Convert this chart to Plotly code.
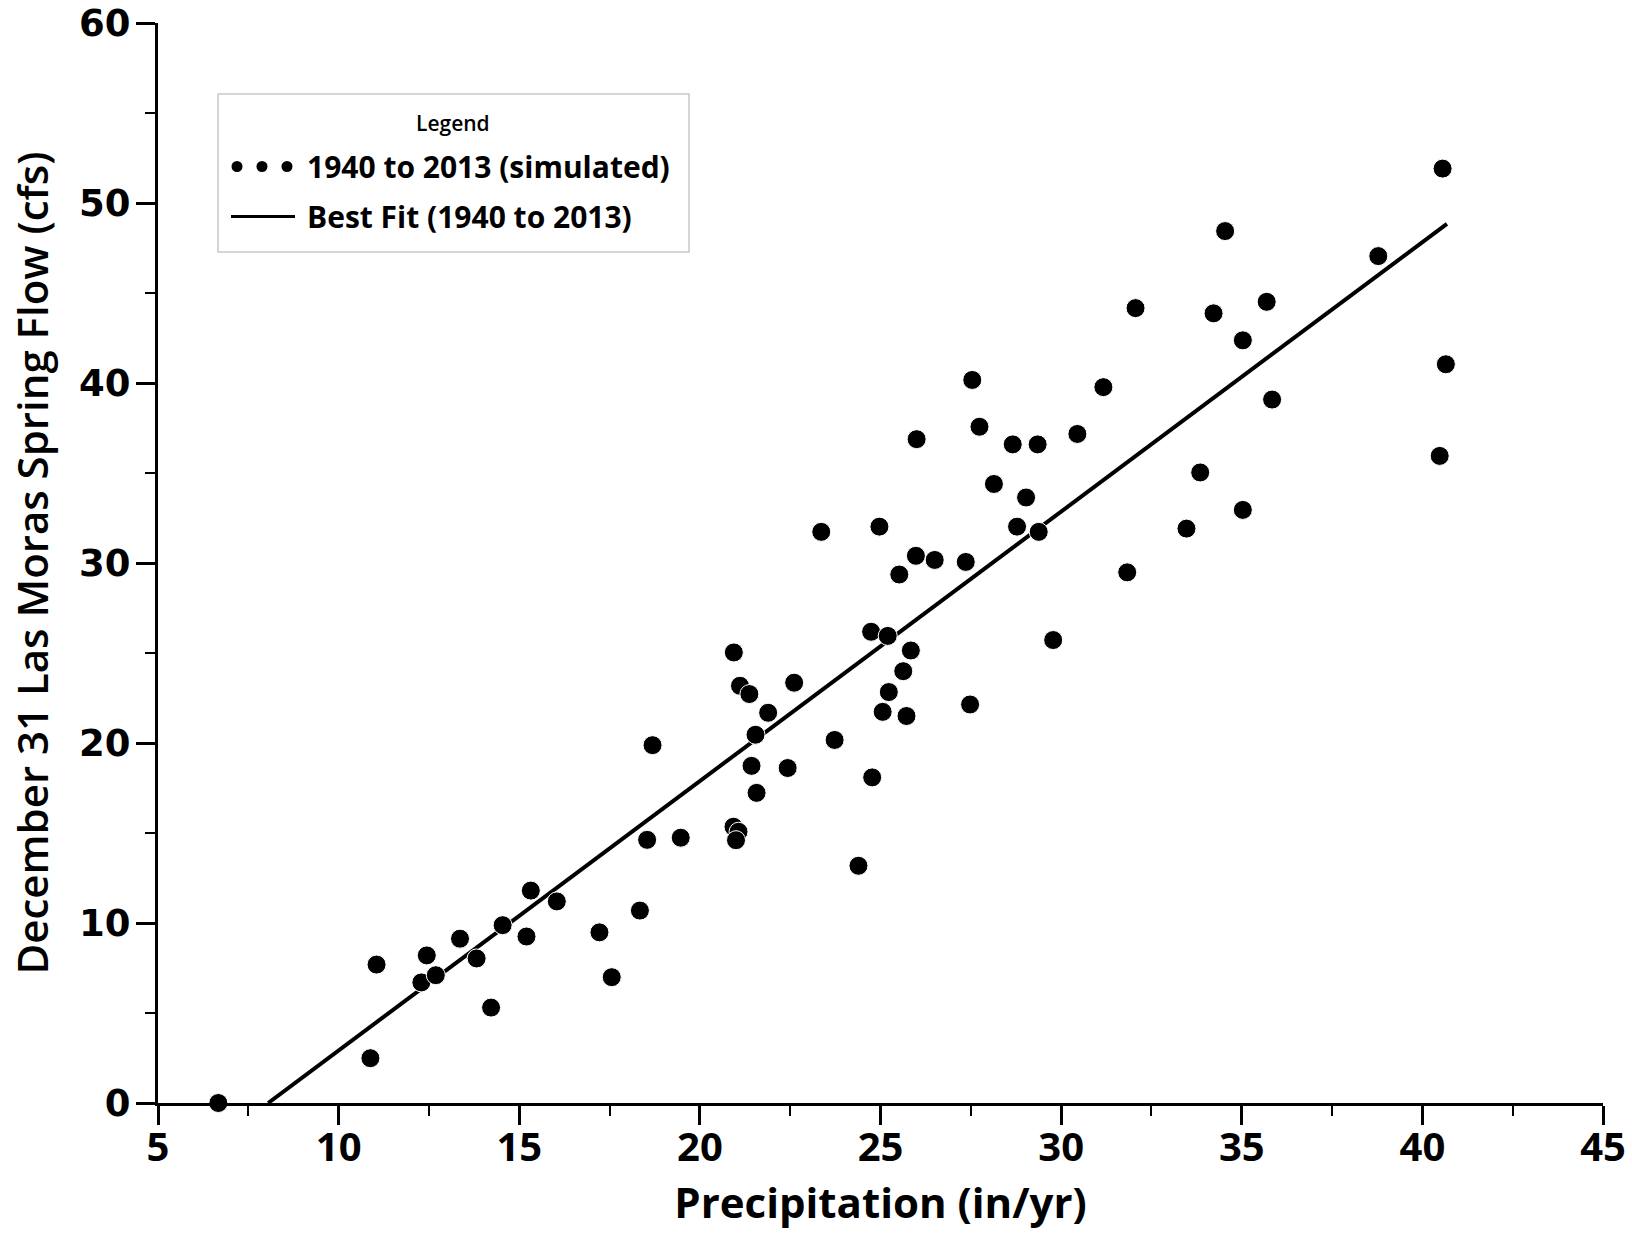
import plotly.graph_objects as go

# Simulated Dec 31 Las Moras spring flow vs precipitation, 1940-2013
precip = [6.67, 10.88, 11.05, 12.29, 12.44, 12.69, 13.36, 13.82, 14.22, 14.54,
          15.20, 15.32, 16.04, 17.22, 17.56, 18.34, 18.54, 18.69, 19.47, 20.94,
          20.93, 21.07, 21.00, 21.11, 21.37, 21.54, 21.43, 21.89, 21.57, 22.43,
          22.61, 23.36, 23.73, 24.39, 24.74, 24.77, 24.97, 25.06, 25.20, 25.23,
          25.52, 25.63, 25.72, 25.84, 25.98, 26.00, 26.50, 27.36, 27.48, 27.54,
          27.74, 28.14, 28.66, 28.78, 29.03, 29.35, 29.38, 29.78, 30.45, 31.17,
          31.83, 32.06, 33.47, 33.85, 34.22, 34.54, 35.03, 35.03, 35.69, 35.84,
          38.78, 40.56, 40.48, 40.65]
flow = [0.0, 2.49, 7.69, 6.70, 8.20, 7.10, 9.13, 8.03, 5.30, 9.88,
        9.25, 11.80, 11.20, 9.48, 6.99, 10.69, 14.62, 19.88, 14.74, 25.03,
        15.35, 15.07, 14.60, 23.18, 22.72, 20.46, 18.73, 21.68, 17.23, 18.61,
        23.35, 31.73, 20.17, 13.18, 26.18, 18.09, 32.02, 21.73, 25.95, 22.83,
        29.36, 23.99, 21.50, 25.14, 30.40, 36.88, 30.17, 30.06, 22.14, 40.17,
        37.57, 34.39, 36.59, 32.02, 33.64, 36.59, 31.73, 25.72, 37.17, 39.77,
        29.48, 44.16, 31.91, 35.03, 43.87, 48.44, 32.95, 42.37, 44.51, 39.08,
        47.05, 51.91, 35.95, 41.04]

fit_x = [8.05, 40.68]
fit_y = [0.0, 48.84]

x_ticks = [5, 10, 15, 20, 25, 30, 35, 40, 45]
y_ticks = [0, 10, 20, 30, 40, 50, 60]

fig = go.Figure()
fig.add_trace(go.Scatter(
    x=fit_x, y=fit_y, mode="lines",
    line=dict(color="black", width=4),
    name="Best Fit (1940 to 2013)", showlegend=False, cliponaxis=False))
fig.add_trace(go.Scatter(
    x=precip, y=flow, mode="markers",
    marker=dict(color="black", size=19, line=dict(color="white", width=1)),
    name="1940 to 2013 (simulated)", showlegend=False, cliponaxis=False))

axis_common = dict(
    showline=True, linecolor="black", linewidth=3, mirror=False,
    ticks="outside", ticklen=19, tickwidth=2.5, tickcolor="black",
    showgrid=False, zeroline=False, ticklabeloverflow="allow",
)

fig.update_xaxes(
    range=[5, 45], tickvals=x_ticks, ticktext=[str(v) for v in x_ticks],
    tickfont=dict(family="Open Sans", size=40, color="black", weight="bold"),
    ticklabelstandoff=-12,
    minor=dict(dtick=2.5, tick0=5, ticks="outside", ticklen=10, tickwidth=2, tickcolor="black"),
    title=dict(text="Precipitation (in/yr)", standoff=14,
               font=dict(family="Open Sans", size=42, color="black", weight="bold")),
    **axis_common)
fig.update_yaxes(
    range=[0, 60], tickvals=y_ticks, ticktext=[str(v) for v in y_ticks],
    tickfont=dict(family="DejaVu Sans", size=37, color="black", weight="bold"),
    ticklabelstandoff=-2,
    minor=dict(dtick=5, tick0=0, ticks="outside", ticklen=10, tickwidth=2, tickcolor="black"),
    title=dict(text="December 31 Las Moras Spring Flow (cfs)", standoff=18,
               font=dict(family="Open Sans", size=42, color="black", weight=600)),
    **axis_common)

# Figure fills the whole page (body margin removed by post_script below)
W, H = 1632, 1260
L, R, T, B = 158, 29, 23, 157
pw, ph = W - L - R, H - T - B


def px(x):
    return (x - L) / pw


def py(y):
    return 1 - (y - T) / ph


shapes = [dict(type="rect", xref="paper", yref="paper",
               x0=px(218), x1=px(689), y0=py(252), y1=py(94),
               line=dict(color="#c8c8c8", width=1.5), fillcolor="white", layer="above")]
for cx in (237, 262, 287):
    r = 5.5
    shapes.append(dict(type="circle", xref="paper", yref="paper",
                       x0=px(cx - r), x1=px(cx + r), y0=py(166.5 + r), y1=py(166.5 - r),
                       fillcolor="black", line=dict(color="black", width=0), layer="above"))
shapes.append(dict(type="line", xref="paper", yref="paper",
                   x0=px(231), x1=px(295), y0=py(216.5), y1=py(216.5),
                   line=dict(color="black", width=3), layer="above"))

annotations = [
    dict(text="Legend", xref="paper", yref="paper", x=px(453), y=py(123),
         xanchor="center", yanchor="middle", showarrow=False,
         font=dict(family="Open Sans", size=21, color="black", weight=600)),
    dict(text="1940 to 2013 (simulated)", xref="paper", yref="paper", x=px(305), y=py(166.5),
         xanchor="left", yanchor="middle", showarrow=False,
         font=dict(family="Open Sans", size=30, color="black", weight="bold")),
    dict(text="Best Fit (1940 to 2013)", xref="paper", yref="paper", x=px(305), y=py(216.5),
         xanchor="left", yanchor="middle", showarrow=False,
         font=dict(family="Open Sans", size=30, color="black", weight="bold")),
]

fig.update_layout(
    width=W, height=H,
    margin=dict(l=L, r=R, t=T, b=B, autoexpand=False),
    paper_bgcolor="white", plot_bgcolor="white",
    showlegend=False,
    shapes=shapes, annotations=annotations,
)

fig.write_html("out.html", config={"displayModeBar": False},
               post_script="document.body.style.margin='0';")
